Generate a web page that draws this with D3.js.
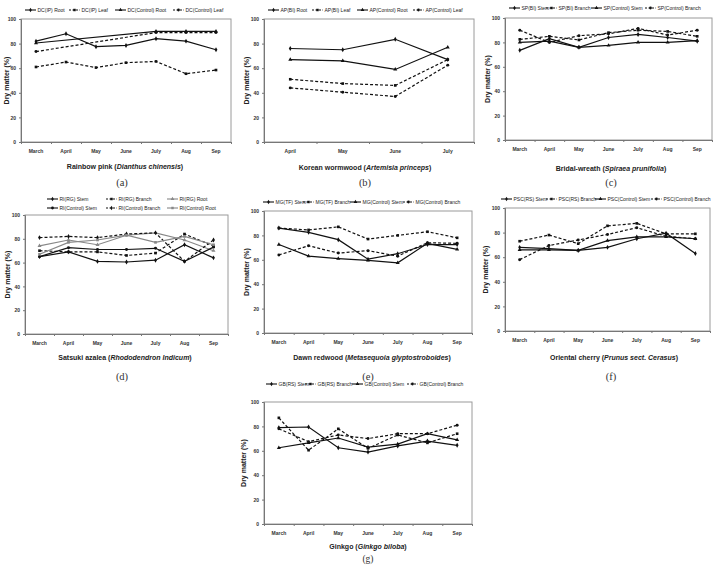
<!DOCTYPE html>
<html><head><meta charset="utf-8">
<script src="https://cdn.jsdelivr.net/npm/d3@7"></script>
<style>
body{margin:0;background:#fff;}
svg{display:block;font-family:"Liberation Sans",Arial,sans-serif;}
</style></head>
<body><svg id="c" width="714" height="565"></svg>
<script>
// ---------- DATA ----------
const monthsFull = ["March","April","May","June","July","Aug","Sep"];
const monthsB = ["April","May","June","July"];
const yTicks = [0,20,40,60,80,100];

// (a) Rainbow pink
const dcIPRoot      = [82, 88, 77.5, 78.5, 84, 82, 75];
const dcIPLeaf      = [61, 65, 60.5, 64.5, 65.5, 55.5, 58.5];
const dcCtrlRoot    = [80.5, null, null, null, 90, 90, 90];
const dcCtrlLeaf    = [73.5, null, null, null, 89, 89, 89];
const legendA = ["DC(IP) Root","DC(IP) Leaf","DC(Control) Root","DC(Control) Leaf"];

// (b) Korean wormwood
const apBIRoot      = [76, 75, 83.5, 67];
const apBILeaf      = [51, 47.5, 46, 67];
const apCtrlRoot    = [67, 66, 59, 77];
const apCtrlLeaf    = [44, 40.5, 37, 62.5];
const legendB = ["AP(BI) Root","AP(BI) Leaf","AP(Control) Root","AP(Control) Leaf"];

// (c) Bridal-wreath
const spBIStem      = [73.5, 83, 76, 84, 86.5, 84, 81];
const spBIBranch    = [82.5, 85, 82, 88, 90, 89, 85];
const spCtrlStem    = [80, 81, 76, 77.5, 80, 80, 81.5];
const spCtrlBranch  = [90, 80, 85.5, 87, 91.5, 86, 90];
const legendC = ["SP(BI) Stem","SP(BI) Branch","SP(Control) Stem","SP(Control) Branch"];

// (d) Satsuki azalea
const riRGStem      = [65, 69, 61, 60.5, 62, 75, 64];
const riRGBranch    = [70, 69, 69, 66, 68, 84, 74];
const riRGRoot      = [74, 79, 75, 83, 85, 79, 70];
const riCtrlStem    = [65, 72.5, 71, 71, 72, 61, 73];
const riCtrlBranch  = [81, 82, 81, 84, 85, 61, 79];
const riCtrlRoot    = [67, 77, 79, 83, 77, 82, 75];
const legendD = ["RI(RG) Stem","RI(RG) Branch","RI(RG) Root","RI(Control) Stem","RI(Control) Branch","RI(Control) Root"];

// (e) Dawn redwood
const mgTFStem      = [86, 82.5, 76.5, 60.5, 65, 72.5, 72.5];
const mgTFBranch    = [86, 84.5, 87, 77, 80, 83, 78];
const mgCtrlStem    = [72.5, 63, 61, 59.5, 57.5, 73.5, 68.5];
const mgCtrlBranch  = [64, 71.5, 65.5, 67.5, 63, 74, 73.5];
const legendE = ["MG(TF) Stem","MG(TF) Branch","MG(Control) Stem","MG(Control) Branch"];

// (f) Oriental cherry
const pscRSStem     = [68, 67, 65.5, 68, 75, 79.5, 63];
const pscRSBranch   = [73, 78, 71, 85.5, 87.5, 79, 79];
const pscCtrlStem   = [66, 66, 65.5, 73.5, 76.5, 76.5, 75];
const pscCtrlBranch = [58, 69.5, 74, 78.5, 84, 77, 75];
const legendF = ["PSC(RS) Stem","PSC(RS) Branch","PSC(Control) Stem","PSC(Control) Branch"];

// (g) Ginkgo
const gbRSStem      = [79, 79.5, 62.5, 59, 64, 68, 64.5];
const gbRSBranch    = [87, 60.5, 78, 62, 73, 66.5, 74];
const gbCtrlStem    = [62.5, 66.5, 70.5, 63, 65.5, 74, 69];
const gbCtrlBranch  = [78, 67.5, 73, 70, 74, 74, 81];
const legendG = ["GB(RS) Stem","GB(RS) Branch","GB(Control) Stem","GB(Control) Branch"];

// ---------- LAYOUT ----------
const svg = d3.select("#c");
const SOLID = null, DASH = "3,2";
const sym = [d3.symbolDiamond, d3.symbolSquare, d3.symbolTriangle, d3.symbolCircle, d3.symbolDiamond, d3.symbolSquare];

const panels = [
  {cats: monthsFull, rect:[21,231,19,142], ytx:6,
   series:[dcIPRoot,dcIPLeaf,dcCtrlRoot,dcCtrlLeaf], names:legendA,
   dash:[SOLID,DASH,SOLID,DASH], color:["#111","#111","#111","#111"],
   leg:{y:[10], x:[25,69,115,173], cols:4},
   title:["Rainbow pink (","Dianthus chinensis",")"], tx:125, ty:169, cap:"(a)", cx:122, cy:186},
  {cats: monthsB, rect:[264,474,19,142], ytx:246,
   series:[apBIRoot,apBILeaf,apCtrlRoot,apCtrlLeaf], names:legendB,
   dash:[SOLID,DASH,SOLID,DASH], color:["#111","#111","#111","#111"],
   leg:{y:[10], x:[268,312,357,413], cols:4},
   title:["Korean wormwood (","Artemisia princeps",")"], tx:365, ty:170, cap:"(b)", cx:365, cy:186},
  {cats: monthsFull, rect:[505,712,18,140], ytx:487,
   series:[spBIStem,spBIBranch,spCtrlStem,spCtrlBranch], names:legendC,
   dash:[SOLID,DASH,SOLID,DASH], color:["#111","#111","#111","#111"],
   leg:{y:[8], x:[509,546,591,645], cols:4},
   title:["Bridal-wreath (","Spiraea prunifolia",")"], tx:611, ty:171, cap:"(c)", cx:611, cy:186},
  {cats: monthsFull, rect:[25,228,215,334], ytx:7,
   series:[riRGStem,riRGBranch,riRGRoot,riCtrlStem,riCtrlBranch,riCtrlRoot], names:legendD,
   dash:[SOLID,DASH,SOLID,SOLID,DASH,SOLID], color:["#111","#111","#888","#111","#111","#888"],
   leg:{y:[199,208], x:[47,106,167], cols:3},
   title:["Satsuki azalea (","Rhododendron Indicum",")"], tx:125, ty:360, cap:"(d)", cx:122, cy:380},
  {cats: monthsFull, rect:[264,472,211,333], ytx:246,
   series:[mgTFStem,mgTFBranch,mgCtrlStem,mgCtrlBranch], names:legendE,
   dash:[SOLID,DASH,SOLID,DASH], color:["#111","#111","#111","#111"],
   leg:{y:[202], x:[263,303,350,403], cols:4},
   title:["Dawn redwood (","Metasequoia glyptostroboides",")"], tx:372, ty:360, cap:"(e)", cx:368, cy:380},
  {cats: monthsFull, rect:[505,710,208,331], ytx:485,
   series:[pscRSStem,pscRSBranch,pscCtrlStem,pscCtrlBranch], names:legendF,
   dash:[SOLID,DASH,SOLID,DASH], color:["#111","#111","#111","#111"],
   leg:{y:[199], x:[501,546,595,651], cols:4},
   title:["Oriental cherry (","Prunus sect. Cerasus",")"], tx:614, ty:360, cap:"(f)", cx:611, cy:380},
  {cats: monthsFull, rect:[264,472,402,524], ytx:243,
   series:[gbRSStem,gbRSBranch,gbCtrlStem,gbCtrlBranch], names:legendG,
   dash:[SOLID,DASH,SOLID,DASH], color:["#111","#111","#111","#111"],
   leg:{y:[384], x:[266,305,352,407], cols:4},
   title:["Ginkgo (","Ginkgo biloba",")"], tx:368, ty:549, cap:"(g)", cx:368, cy:562}
];

panels.forEach(p => {
  const [x0,x1,yT,yB] = p.rect;
  const g = svg.append("g");
  const x = d3.scaleBand().domain(p.cats).range([x0,x1]);
  const y = d3.scaleLinear().domain([0,100]).range([yB,yT]);
  const xb = d3.scaleLinear().domain([0,p.cats.length]).range([x0,x1]);

  // frame
  g.append("rect").attr("x",x0).attr("y",yT).attr("width",x1-x0).attr("height",yB-yT)
    .attr("fill","none").attr("stroke","#9a9a9a").attr("stroke-width",1);

  // y axis
  const ya = g.append("g").attr("transform",`translate(${x0},0)`)
    .call(d3.axisLeft(y).tickValues(yTicks).tickSize(2).tickPadding(3));
  ya.select(".domain").attr("stroke","#777");
  ya.selectAll(".tick line").attr("stroke","#777");
  ya.selectAll("text").attr("font-size",5).attr("font-weight","bold").attr("fill","#333")
    .attr("font-family","Liberation Sans, Arial, sans-serif");

  // x axis: tick marks at band boundaries
  const xa = g.append("g").attr("transform",`translate(0,${yB})`)
    .call(d3.axisBottom(xb).tickValues(d3.range(p.cats.length+1)).tickFormat("").tickSize(2));
  xa.select(".domain").attr("stroke","#777");
  xa.selectAll(".tick line").attr("stroke","#777");
  const xl = g.append("g").attr("transform",`translate(0,${yB})`)
    .call(d3.axisBottom(x).tickSize(0).tickPadding(7));
  xl.select(".domain").remove();
  xl.selectAll("text").attr("font-size",5).attr("font-weight","bold").attr("fill","#333")
    .attr("font-family","Liberation Sans, Arial, sans-serif");

  // y title
  g.append("text").attr("transform",`translate(${p.ytx},${(yT+yB)/2}) rotate(-90)`)
    .attr("text-anchor","middle").attr("dominant-baseline","central")
    .attr("font-size",7).attr("font-weight","bold").attr("fill","#222").text("Dry matter (%)");

  // series
  const line = d3.line().x(d => x(d.c) + x.bandwidth()/2).y(d => y(d.v));
  p.series.forEach((s,i) => {
    const pts = s.map((v,j) => ({c:p.cats[j], v:v})).filter(d => d.v != null);
    g.append("path").datum(pts).attr("d",line).attr("fill","none")
      .attr("stroke",p.color[i]).attr("stroke-width",1.2)
      .attr("stroke-dasharray",p.dash[i]);
    g.selectAll(null).data(pts).enter().append("path")
      .attr("transform",d => `translate(${x(d.c)+x.bandwidth()/2},${y(d.v)})`)
      .attr("d",d3.symbol().type(sym[i]).size(7)).attr("fill",p.color[i]);
  });

  // legend
  p.names.forEach((n,i) => {
    const lx = p.leg.x[i % p.leg.cols], ly = p.leg.y[Math.floor(i / p.leg.cols)];
    const lg = g.append("g");
    lg.append("line").attr("x1",lx).attr("x2",lx+11).attr("y1",ly).attr("y2",ly)
      .attr("stroke",p.color[i]).attr("stroke-width",1.1).attr("stroke-dasharray",p.dash[i] ? "2,1.5" : null);
    lg.append("path").attr("transform",`translate(${lx+5.5},${ly})`)
      .attr("d",d3.symbol().type(sym[i]).size(6)).attr("fill",p.color[i]);
    lg.append("text").attr("x",lx+12.5).attr("y",ly).attr("dominant-baseline","central")
      .attr("font-size",5).attr("fill","#222").text(n);
  });

  // title
  const t = g.append("text").attr("x",p.tx).attr("y",p.ty).attr("text-anchor","middle")
    .attr("font-size",7).attr("font-weight","bold").attr("fill","#222");
  t.append("tspan").text(p.title[0]);
  t.append("tspan").attr("font-style","italic").text(p.title[1]);
  t.append("tspan").text(p.title[2]);

  // caption
  g.append("text").attr("x",p.cx).attr("y",p.cy).attr("text-anchor","middle")
    .attr("font-family","Liberation Serif, DejaVu Serif, serif").attr("font-size",p.cap === "(g)" ? 9.5 : 10.5)
    .attr("fill","#333").text(p.cap);
});
</script>
</body></html>
